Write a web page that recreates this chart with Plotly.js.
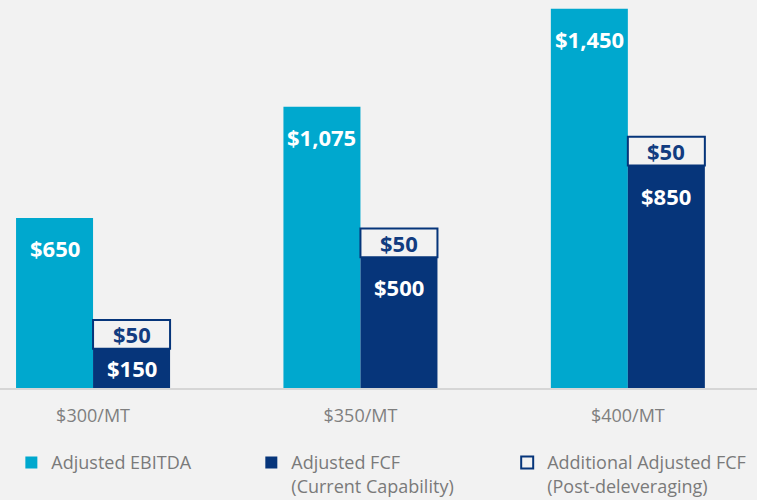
<!DOCTYPE html>
<html><head><meta charset="utf-8">
<script src="https://cdn.plot.ly/plotly-3.0.1.min.js"></script>
<style>html,body{margin:0;padding:0;background:#F2F2F2;}#chart{width:757px;height:500px;}</style>
</head><body><div id="chart"></div><script>
// ---- data ----
const categories = ['$300/MT', '$350/MT', '$400/MT'];
const ebitda = [650, 1075, 1450];
const fcf = [150, 500, 850];
const addlFcf = [50, 50, 50];          // labelled value of the outlined box
const addlFcfBar = [110, 110, 110];    // box height as drawn in the source (not to scale)
const seriesNames = ['Adjusted EBITDA', 'Adjusted FCF<br>(Current Capability)', 'Additional Adjusted FCF<br>(Post-deleveraging)'];

// ---- styling ----
const cLight = '#00A8CE', cDark = '#06357A', cNavyText = '#123C80', bg = '#F2F2F2';
const fontFam = 'Open Sans, sans-serif';
const yMax = 1483, plotH = 388;
const fmt = v => '$' + v.toLocaleString('en-US');

const traces = [
  {type: 'bar', name: seriesNames[0], x: categories, y: ebitda, offsetgroup: 'a',
   marker: {color: cLight, line: {width: 0}}, legend: 'legend', hoverinfo: 'skip'},
  {type: 'bar', name: seriesNames[1], x: categories, y: fcf, offsetgroup: 'b',
   marker: {color: cDark, line: {width: 0}}, legend: 'legend2', hoverinfo: 'skip'},
  {type: 'bar', name: seriesNames[2], x: categories, y: addlFcfBar, base: fcf, offsetgroup: 'b',
   marker: {color: bg, line: {width: 2, color: cDark}}, legend: 'legend3', hoverinfo: 'skip'}
];

const annotations = [];
const half = 38.5;
categories.forEach((c, i) => {
  annotations.push({x: c, y: ebitda[i], xref: 'x', yref: 'y', xshift: -half, yshift: -30,
    yanchor: 'middle', showarrow: false, text: '<b>' + fmt(ebitda[i]) + '</b>',
    font: {family: fontFam, size: 22, color: '#FFFFFF'}});
  const small = fcf[i] / yMax * plotH < 60;
  annotations.push({x: c, y: small ? fcf[i] / 2 : fcf[i], xref: 'x', yref: 'y', xshift: half,
    yshift: small ? 0 : -30, yanchor: 'middle', showarrow: false, text: '<b>' + fmt(fcf[i]) + '</b>',
    font: {family: fontFam, size: 22, color: '#FFFFFF'}});
  annotations.push({x: c, y: fcf[i] + addlFcfBar[i] / 2, xref: 'x', yref: 'y', xshift: half,
    yanchor: 'middle', showarrow: false, text: '<b>' + fmt(addlFcf[i]) + '</b>',
    font: {family: fontFam, size: 22, color: cNavyText}});
});

const legBase = {xref: 'paper', yref: 'paper', xanchor: 'left', yanchor: 'top', y: -0.145,
  bgcolor: 'rgba(0,0,0,0)', borderwidth: 0, valign: 'top',
  font: {family: fontFam, size: 18, color: '#7A7A7A'}};

const layout = {
  width: 757, height: 500,
  paper_bgcolor: bg, plot_bgcolor: bg,
  margin: {l: 0, r: 0, t: 0, b: 112, autoexpand: false},
  barmode: 'group', bargap: 0.424, bargroupgap: 0,
  showlegend: true,
  legend: Object.assign({}, legBase, {x: 0.015}),
  legend2: Object.assign({}, legBase, {x: 0.332}),
  legend3: Object.assign({}, legBase, {x: 0.670}),
  xaxis: {type: 'category', range: [-0.348, 2.483], showline: true, linecolor: '#D6D6D6', linewidth: 2,
    ticks: '', showgrid: false, zeroline: false, ticklabelstandoff: 10,
    tickfont: {family: fontFam, size: 18, color: '#7F7F7F'}, fixedrange: true},
  yaxis: {range: [0, yMax], visible: false, showgrid: false, zeroline: false, fixedrange: true},
  annotations: annotations
};

Plotly.newPlot('chart', traces, layout, {displayModeBar: false, staticPlot: true});
</script></body></html>
